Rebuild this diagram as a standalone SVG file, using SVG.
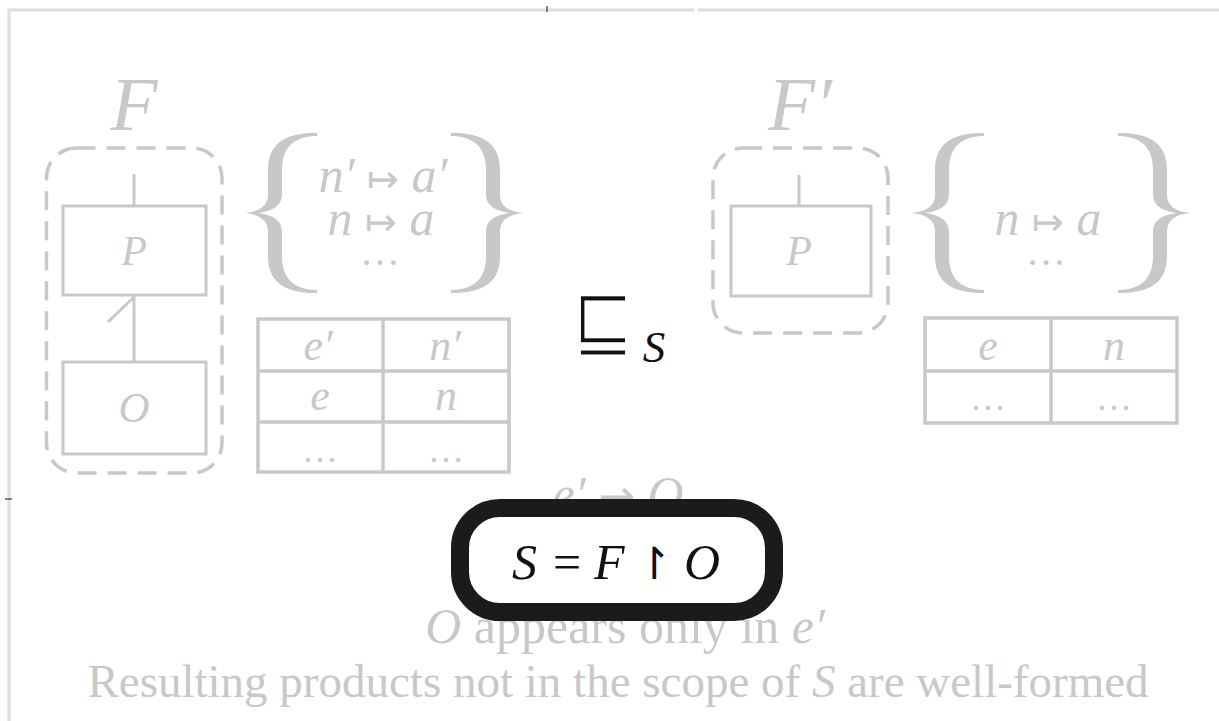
<svg xmlns="http://www.w3.org/2000/svg" xmlns:xlink="http://www.w3.org/1999/xlink" width="1219" height="721" viewBox="0 0 1219 721">
  <style>
    .frame { fill: none; stroke: #dedede; stroke-width: 3; }
    .tick { stroke: #333333; stroke-width: 1.2; }
    .scope { fill: none; stroke: #c8c8c8; stroke-width: 3.5; stroke-dasharray: 19 11; }
    .box { fill: none; stroke: #c8c8c8; stroke-width: 3; }
    .cell { fill: none; stroke: #c8c8c8; stroke-width: 3.5; }
    .wire { fill: none; stroke: #c8c8c8; stroke-width: 3; }
    .math { font-family: "Liberation Serif", "DejaVu Serif", serif; font-style: italic; fill: #c8c8c8; }
    .sym { font-family: "DejaVu Sans", "Liberation Serif", sans-serif; font-style: normal; }
    .up { font-style: normal; }
    .note { font-family: "Liberation Serif", "DejaVu Serif", serif; fill: #c8c8c8; }
    .ink { fill: #111111; }
    .brace { fill: #c8c8c8; }
  </style>
  <defs>
    <!-- curly brace, tip at the origin, opening to the right -->
    <path id="brace" d="M73,-80 C46,-80 24,-73 24,-43 L24,-18 C24,-8 16,-1 0,0 C16,1 24,8 24,18 L24,43 C24,73 46,80 73,80 L73,77 C54,77 38,69 38,43 L38,19 C38,9 31,2 14,0 C31,-2 38,-9 38,-19 L38,-43 C38,-69 54,-77 73,-77 Z"/>
  </defs>

  <rect width="1219" height="721" fill="#ffffff"/>

  <!-- outer frame -->
  <g id="frame">
    <polyline class="frame" points="694,10 9,10 9,721"/>
    <line class="frame" x1="698" y1="10" x2="1219" y2="10"/>
    <line class="tick" x1="547" y1="6" x2="547" y2="12"/>
    <line class="tick" x1="5" y1="499" x2="12" y2="499"/>
  </g>

  <!-- feature model F -->
  <g id="F">
    <text class="math" x="134" y="130" font-size="77" text-anchor="middle">F</text>
    <rect class="scope" x="46.5" y="148" width="175.5" height="325" rx="30"/>
    <g id="F-P">
      <rect class="box" x="63" y="206" width="143" height="89"/>
      <text class="math" x="134" y="265" font-size="42" text-anchor="middle">P</text>
    </g>
    <g id="F-O">
      <rect class="box" x="63" y="362" width="143" height="92"/>
      <text class="math" x="134" y="422" font-size="43" text-anchor="middle">O</text>
    </g>
  </g>

  <!-- annotation map of F -->
  <g id="F-map">
    <use xlink:href="#brace" class="brace" transform="translate(244,213)"/>
    <use xlink:href="#brace" class="brace" transform="translate(524,213) scale(-1,1)"/>
    <text class="math" x="383" y="192" font-size="50" text-anchor="middle">n′ <tspan class="sym up" font-size="38">↦</tspan> a′</text>
    <text class="math" x="381" y="235" font-size="50" text-anchor="middle">n <tspan class="sym up" font-size="38">↦</tspan> a</text>
    <text class="math up" x="380" y="265" font-size="40" text-anchor="middle">…</text>
  </g>

  <!-- presence table of F -->
  <g id="F-table">
    <rect class="cell" x="258" y="319" width="251" height="153"/>
    <line class="cell" x1="383" y1="319" x2="383" y2="472"/>
    <line class="cell" x1="258" y1="371" x2="509" y2="371"/>
    <line class="cell" x1="258" y1="422" x2="509" y2="422"/>
    <text class="math" x="318" y="360" font-size="44" text-anchor="middle">e′</text>
    <text class="math" x="445" y="360" font-size="44" text-anchor="middle">n′</text>
    <text class="math" x="320" y="410" font-size="44" text-anchor="middle">e</text>
    <text class="math" x="446" y="410" font-size="44" text-anchor="middle">n</text>
    <text class="math up" x="320" y="462" font-size="36" text-anchor="middle">…</text>
    <text class="math up" x="446" y="462" font-size="36" text-anchor="middle">…</text>
  </g>

  <!-- feature model F' -->
  <g id="F-prime">
    <text class="math" x="800" y="130" font-size="77" text-anchor="middle">F′</text>
    <rect class="scope" x="713" y="148" width="175" height="185" rx="30"/>
    <g id="Fp-P">
      <rect class="box" x="731" y="206" width="140" height="90"/>
      <text class="math" x="799" y="265" font-size="42" text-anchor="middle">P</text>
    </g>
  </g>

  <!-- annotation map of F' -->
  <g id="Fp-map">
    <use xlink:href="#brace" class="brace" transform="translate(911,213)"/>
    <use xlink:href="#brace" class="brace" transform="translate(1191,213) scale(-1,1)"/>
    <text class="math" x="1048" y="235" font-size="50" text-anchor="middle">n <tspan class="sym up" font-size="38">↦</tspan> a</text>
    <text class="math up" x="1046" y="265" font-size="40" text-anchor="middle">…</text>
  </g>

  <!-- presence table of F' -->
  <g id="Fp-table">
    <rect class="cell" x="925" y="318" width="252" height="105"/>
    <line class="cell" x1="1051" y1="318" x2="1051" y2="423"/>
    <line class="cell" x1="925" y1="371" x2="1177" y2="371"/>
    <text class="math" x="988" y="360" font-size="44" text-anchor="middle">e</text>
    <text class="math" x="1114" y="360" font-size="44" text-anchor="middle">n</text>
    <text class="math up" x="988" y="410" font-size="36" text-anchor="middle">…</text>
    <text class="math up" x="1114" y="410" font-size="36" text-anchor="middle">…</text>
  </g>

  <!-- tree edges -->
  <g id="connectors">
    <line class="wire" x1="134" y1="174" x2="134" y2="206"/>
    <line class="wire" x1="134" y1="362" x2="134" y2="296"/>
    <line class="wire" x1="134" y1="297" x2="108" y2="322"/>
    <line class="wire" x1="799" y1="175" x2="799" y2="206"/>
  </g>

  <!-- refinement relation -->
  <g id="refines">
    <text class="sym ink" transform="translate(603,349) scale(1.04,1.2)" font-size="72" text-anchor="middle" stroke="#ffffff" stroke-width="2.6">⊑</text>
    <text class="math ink" x="654" y="362" font-size="45" text-anchor="middle">S</text>
  </g>

  <!-- conditions, partly covered by the slice box drawn afterwards -->
  <g id="mapping">
    <text class="math" x="618" y="511" font-size="50" text-anchor="middle">e′ <tspan class="sym up" font-size="44">→</tspan> O</text>
  </g>

  <g id="notes">
    <text class="note" x="625" y="643" font-size="50" text-anchor="middle"><tspan font-style="italic">O</tspan> appears only in <tspan font-style="italic">e′</tspan></text>
    <text class="note" x="618" y="697" font-size="47" text-anchor="middle" fill="#d2d2d2">Resulting products not in the scope of <tspan font-style="italic">S</tspan> are well-formed</text>
  </g>

  <!-- slice definition -->
  <g id="slice">
    <rect x="460" y="508" width="314" height="104" rx="40" fill="#ffffff" stroke="#1b1b1b" stroke-width="18"/>
    <text class="math ink" y="579" font-size="50"><tspan x="512">S</tspan><tspan class="up" x="553">=</tspan><tspan x="594">F</tspan><tspan class="sym up" x="636" font-size="44">↾</tspan><tspan x="684">O</tspan></text>
  </g>
</svg>
